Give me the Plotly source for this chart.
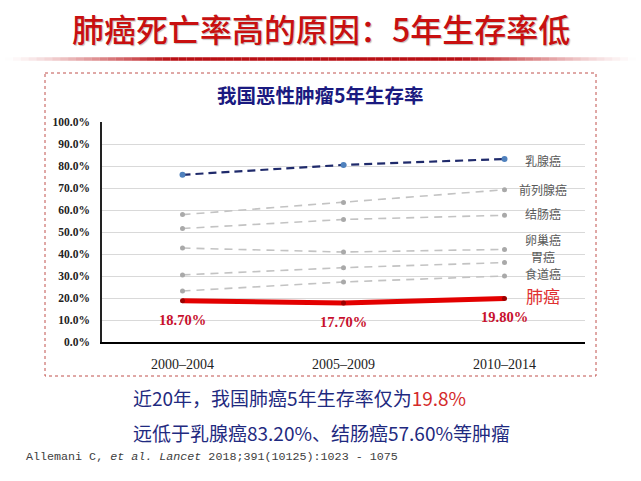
import plotly.graph_objects as go

periods = ["2000–2004", "2005–2009", "2010–2014"]
breast = [0.760, 0.805, 0.832]
prostate = [0.579, 0.634, 0.692]
colorectal = [0.516, 0.557, 0.576]
ovary = [0.427, 0.409, 0.421]
stomach = [0.305, 0.338, 0.361]
esophagus = [0.232, 0.273, 0.300]
lung = [0.187, 0.177, 0.198]

gray_series = [("前列腺癌", prostate), ("结肠癌", colorectal), ("卵巢癌", ovary),
               ("胃癌", stomach), ("食道癌", esophagus)]
label_names = ["乳腺癌", "前列腺癌", "结肠癌", "卵巢癌", "胃癌", "食道癌"]
label_pos = [0.826, 0.693, 0.584, 0.465, 0.389, 0.311]
lung_label_pos = 0.211

W, H = 641, 481
L, R, T, B = 102, 56, 122, 139
PW, PH = W - L - R, H - T - B


def xp(px):
    return (px - L) / PW


def yp(py):
    return (H - B - py) / PH


fig = go.Figure()

for name, vals in gray_series:
    fig.add_trace(go.Scatter(
        x=periods, y=vals, mode="lines+markers", name=name,
        line=dict(color="#c3c3c3", width=1.6, dash="8px,6px"),
        marker=dict(color="#a9a9a9", size=5),
        showlegend=False, hoverinfo="skip"))

fig.add_trace(go.Scatter(
    x=periods, y=breast, mode="lines+markers", name="乳腺癌",
    line=dict(color="#1f2a6b", width=2.2, dash="8px,5px"),
    marker=dict(color="#4f81bd", size=6),
    showlegend=False, hoverinfo="skip"))

fig.add_trace(go.Scatter(
    x=periods, y=lung, mode="lines+markers", name="肺癌",
    line=dict(color="#e30000", width=5),
    marker=dict(color="#9b0000", size=5),
    showlegend=False, hoverinfo="skip"))

annotations = []
for p, v in zip(periods, lung):
    annotations.append(dict(
        x=p, y=v, xref="x", yref="y", yshift=-19, text=f"{v*100:.2f}%", showarrow=False,
        xanchor="center", yanchor="middle",
        font=dict(family="Liberation Serif", size=14.5, color="#c8102e", weight="bold")))

for name, yv in zip(label_names, label_pos):
    annotations.append(dict(
        x=2, y=yv, xref="x", yref="y", xshift=38, text=name, showarrow=False,
        xanchor="center", yanchor="middle",
        font=dict(family="Noto Sans CJK SC", size=12, color="#595959")))
annotations.append(dict(
    x=2, y=lung_label_pos, xref="x", yref="y", xshift=38, text="肺癌", showarrow=False,
    xanchor="center", yanchor="middle",
    font=dict(family="Noto Sans CJK SC", size=17, color="#e03030")))

annotations.append(dict(
    x=xp(321), y=yp(28), xref="paper", yref="paper", showarrow=False,
    text="肺癌死亡率高的原因：5年生存率低", xanchor="center", yanchor="middle",
    font=dict(family="Noto Sans CJK SC", size=32, color="#c81010", weight=500,
              shadow="1px 1px 1px rgba(0,0,0,0.25)")))
annotations.append(dict(
    x=xp(320), y=yp(95), xref="paper", yref="paper", showarrow=False,
    text="我国恶性肿瘤5年生存率", xanchor="center", yanchor="middle",
    font=dict(family="Noto Sans CJK SC", size=19.5, color="#1a1a80", weight="bold")))
annotations.append(dict(
    x=xp(131), y=yp(397), xref="paper", yref="paper", showarrow=False,
    text="近20年，我国肺癌5年生存率仅为<span style='color:#d42a2a'>19.8%</span>",
    xanchor="left", yanchor="middle",
    font=dict(family="Noto Sans CJK SC", size=19, color="#1f2a80")))
annotations.append(dict(
    x=xp(131), y=yp(432), xref="paper", yref="paper", showarrow=False,
    text="远低于乳腺癌83.20%、结肠癌57.60%等肿瘤",
    xanchor="left", yanchor="middle",
    font=dict(family="Noto Sans CJK SC", size=19, color="#1f2a80")))
annotations.append(dict(
    x=xp(24), y=yp(457), xref="paper", yref="paper", showarrow=False,
    text="Allemani C, <i>et al. Lancet</i> 2018;391(10125):1023 - 1075",
    xanchor="left", yanchor="middle",
    font=dict(family="Liberation Mono", size=11.7, color="#404040")))

shapes = []
# dotted red frame
shapes.append(dict(type="rect", xref="paper", yref="paper",
                   x0=xp(45), x1=xp(596), y0=yp(73), y1=yp(376),
                   line=dict(color="#c0504d", width=1, dash="dot"), layer="below"))
# gradient rule under the title
n = 80
x_start, x_end = 5, 636
full_a, full_b = 170, 460
for i in range(n):
    a = x_start + (x_end - x_start) * i / n
    b = x_start + (x_end - x_start) * (i + 1) / n
    m = (a + b) / 2
    if m < full_a:
        op = (m - x_start) / (full_a - x_start)
    elif m > full_b:
        op = (x_end - m) / (x_end - full_b)
    else:
        op = 1.0
    shapes.append(dict(type="line", xref="paper", yref="paper",
                       x0=xp(a), x1=xp(b), y0=yp(59), y1=yp(59),
                       line=dict(color=f"rgba(185,15,20,{max(op,0)**1.3:.3f})", width=3.5)))

fig.update_layout(
    width=W, height=H,
    margin=dict(l=L, r=R, t=T, b=B),
    paper_bgcolor="white", plot_bgcolor="white",
    annotations=annotations, shapes=shapes,
    xaxis=dict(type="category", range=[-0.5, 2.5], showgrid=False,
               showline=True, linecolor="#000000", linewidth=1.5,
               ticks="", tickfont=dict(family="Liberation Serif", size=14, color="#222222"),
               ticklabelstandoff=8, zeroline=False, fixedrange=True),
    yaxis=dict(range=[0, 1.0], dtick=0.1, tickformat=".1%",
               showgrid=True, gridcolor="#d9d9d9", gridwidth=1,
               showline=True, linecolor="#222222", linewidth=1.5,
               ticks="", tickfont=dict(family="Liberation Serif", size=11.5, color="#222222", weight="bold"),
               ticklabelstandoff=8, zeroline=False, fixedrange=True),
)

fig.write_html("out.html", config={"displayModeBar": False},
               post_script="document.body.style.margin='0';document.body.style.padding='0';")
